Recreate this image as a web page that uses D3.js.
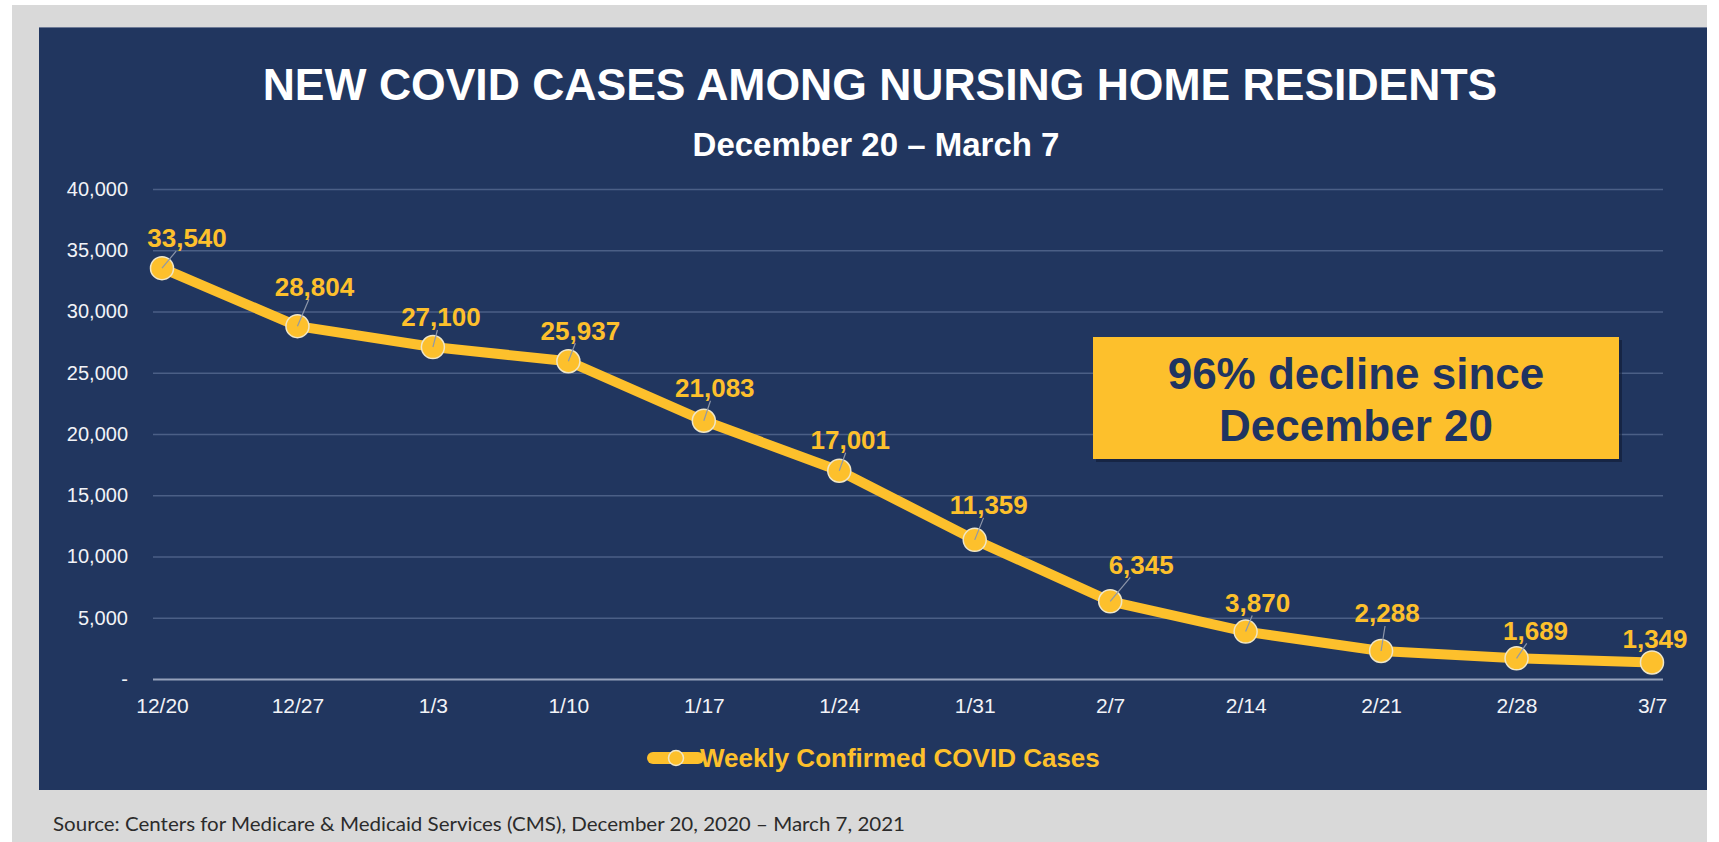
<!DOCTYPE html>
<html lang="en">
<head>
    <meta charset="UTF-8">
    <title>New COVID cases among nursing home residents</title>
    <style>
        body { margin: 0; background: #ffffff; }
        .tick text { font-family: "Liberation Sans", Arial, sans-serif; fill: #f2f3f7; }
        .grid .tick line { stroke: #4b5f86; stroke-width: 1.5px; }
        .grid .tick:first-of-type line { stroke: #95a1bb; stroke-width: 2px; }
        .lbl { font-family: "Liberation Sans", Arial, sans-serif; font-weight: bold; fill: #fdc02c; }
    </style>
    <script src="https://cdnjs.cloudflare.com/ajax/libs/d3/7.8.5/d3.min.js"></script>
</head>
<body>
<div class="container"></div>
<script>

    // data
    const weeks = ["12/20", "12/27", "1/3", "1/10", "1/17", "1/24", "1/31", "2/7", "2/14", "2/21", "2/28", "3/7"];
    const cases = [33540, 28804, 27100, 25937, 21083, 17001, 11359, 6345, 3870, 2288, 1689, 1349];
    const yTicks = [0, 5000, 10000, 15000, 20000, 25000, 30000, 35000, 40000];

    // where Excel put each data label, relative to its point
    const labelNudge = [[25, -30], [17, -40], [8, -30], [12, -31], [11, -33], [11, -31],
                        [14, -35], [31, -37], [12, -29], [6, -38], [19, -28], [3, -24]];

    const width = 1719, height = 842;
    const gold = "#fdc02c", navy = "#21365f";
    const font = "'Liberation Sans', Arial, sans-serif";

    const svg = d3.select(".container")
        .append("svg")
        .attr("width", width)
        .attr("height", height);

    // grey page and navy slide panel
    svg.append("rect").attr("x", 12).attr("y", 5).attr("width", 1695).attr("height", 837).attr("fill", "#d9d9d9");
    svg.append("rect").attr("x", 39).attr("y", 27).attr("width", 1668).attr("height", 763).attr("fill", navy);
    svg.append("line").attr("x1", 39).attr("x2", 1707).attr("y1", 27.5).attr("y2", 27.5)
        .attr("stroke", "#6d7a96").attr("stroke-width", 1);

    svg.append("text")
        .attr("x", 880).attr("y", 100)
        .attr("text-anchor", "middle")
        .style("font-family", font).style("font-weight", "bold").style("font-size", "44.5px")
        .attr("fill", "#ffffff")
        .text("NEW COVID CASES AMONG NURSING HOME RESIDENTS");

    svg.append("text")
        .attr("x", 876).attr("y", 156)
        .attr("text-anchor", "middle")
        .style("font-family", font).style("font-weight", "bold").style("font-size", "33px")
        .attr("fill", "#ffffff")
        .text("December 20 \u2013 March 7");

    // scales
    const x = d3.scalePoint().domain(weeks).range([162, 1652]);
    const y = d3.scaleLinear().domain([0, 40000]).range([679, 189]);

    // gridlines + y labels
    svg.append("g")
        .attr("class", "grid")
        .attr("transform", "translate(153,0)")
        .call(d3.axisLeft(y).tickValues(yTicks).tickSize(-1510).tickPadding(25)
            .tickFormat(d => d === 0 ? "-" : d3.format(",")(d)))
        .call(g => g.select(".domain").remove())
        .selectAll("text").style("font-size", "20px");

    // x labels
    svg.append("g")
        .attr("transform", "translate(0,679)")
        .call(d3.axisBottom(x).tickSize(0).tickPadding(19))
        .call(g => g.select(".domain").remove())
        .selectAll("text").style("font-size", "21px");

    // the line
    const line = d3.line()
        .x((d, i) => x(weeks[i]))
        .y(d => y(d));

    svg.append("path")
        .datum(cases)
        .attr("d", line)
        .attr("fill", "none")
        .attr("stroke", gold)
        .attr("stroke-width", 10)
        .attr("stroke-linejoin", "round");

    svg.append("g")
        .selectAll("circle")
        .data(cases)
        .join("circle")
        .attr("cx", (d, i) => x(weeks[i]))
        .attr("cy", d => y(d))
        .attr("r", 11.5)
        .attr("fill", gold)
        .attr("stroke", "#efe6c8")
        .attr("stroke-width", 1.5);

    // leader lines from label to point
    svg.append("g")
        .selectAll("line")
        .data(cases)
        .join("line")
        .filter((d, i) => Math.hypot(labelNudge[i][0], labelNudge[i][1]) > 30)
        .attr("x1", (d, i) => x(weeks[i]))
        .attr("y1", d => y(d))
        .attr("x2", (d, i) => x(weeks[i]) + labelNudge[i][0] * (labelNudge[i][1] + 13) / labelNudge[i][1])
        .attr("y2", (d, i) => y(d) + labelNudge[i][1] + 13)
        .attr("stroke", "#8e97aa")
        .attr("stroke-width", 1.2);

    // data labels
    svg.append("g")
        .selectAll("text")
        .data(cases)
        .join("text")
        .attr("class", "lbl")
        .attr("x", (d, i) => x(weeks[i]) + labelNudge[i][0])
        .attr("y", (d, i) => y(d) + labelNudge[i][1])
        .attr("dy", "0.36em")
        .attr("text-anchor", "middle")
        .style("font-size", "26px")
        .text(d => d3.format(",")(d));

    // callout box
    const box = svg.append("g").attr("transform", "translate(1093,337)");
    box.append("rect").attr("x", 3).attr("y", 3).attr("width", 526).attr("height", 122)
        .attr("fill", "#0f1a33").attr("opacity", 0.6);
    box.append("rect").attr("width", 526).attr("height", 122).attr("fill", "#fdc02c");
    box.append("text")
        .attr("x", 263).attr("y", 52)
        .attr("text-anchor", "middle")
        .style("font-family", font).style("font-weight", "bold").style("font-size", "44px")
        .attr("fill", "#1f3461")
        .text("96% decline since");
    box.append("text")
        .attr("x", 263).attr("y", 104)
        .attr("text-anchor", "middle")
        .style("font-family", font).style("font-weight", "bold").style("font-size", "44px")
        .attr("fill", "#1f3461")
        .text("December 20");

    // legend
    const legend = svg.append("g").attr("transform", "translate(653,758)");
    legend.append("line").attr("x1", 0).attr("x2", 45).attr("y1", 0).attr("y2", 0)
        .attr("stroke", gold).attr("stroke-width", 12).attr("stroke-linecap", "round");
    legend.append("circle").attr("cx", 23).attr("cy", 0).attr("r", 7.5)
        .attr("fill", gold).attr("stroke", "#efe6c8").attr("stroke-width", 1.5);
    legend.append("text")
        .attr("class", "lbl")
        .attr("x", 47).attr("dy", "0.36em")
        .style("font-size", "26px")
        .text("Weekly Confirmed COVID Cases");

    // source note
    svg.append("text")
        .attr("x", 53).attr("y", 831)
        .attr("textLength", 852).attr("lengthAdjust", "spacingAndGlyphs")
        .style("font-family", "Lato, 'Open Sans', sans-serif").style("font-size", "20px")
        .attr("fill", "#2b2b2b")
        .text("Source: Centers for Medicare & Medicaid Services (CMS), December 20, 2020 \u2013 March 7, 2021");

</script>
</body>
</html>
